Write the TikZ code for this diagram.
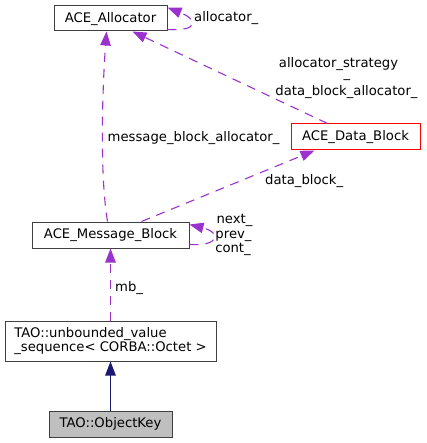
\documentclass[tikz,border=0pt]{standalone}
\usepackage{fontspec}
\setmainfont{DejaVu Sans}
\usetikzlibrary{arrows.meta}
\definecolor{edgepurple}{HTML}{9A32CD}
\definecolor{navyedge}{HTML}{191970}
\definecolor{boxgray}{HTML}{404040}
\definecolor{keyfill}{HTML}{BFBFBF}
\begin{document}
\begin{tikzpicture}[x=1pt,y=-1pt,
  font=\fontsize{13.2pt}{14pt}\selectfont,
  boxbase/.style={draw=boxgray, line width=1pt, fill=white, inner sep=0pt},
  box/.style={boxbase, text height=10pt, text depth=2.4pt},
  lbl/.style={inner sep=0pt},
  tip/.style={-{Triangle[length=14pt,width=10.5pt]}},
  coll/.style={draw=edgepurple, line width=1.1pt, dash pattern=on 9pt off 7pt, tip},
  inh/.style={draw=navyedge, line width=1.1pt, tip}]
\useasboundingbox (0,0) rectangle (426,443);

% nodes
\node[box, minimum width=113pt, minimum height=25pt] (alloc) at (110.5,18.5) {ACE\_Allocator};
\node[box, draw=red, minimum width=129pt, minimum height=26pt] (db) at (355.5,137) {ACE\_Data\_Block};
\node[box, minimum width=157pt, minimum height=26pt] (msg) at (110.5,235) {ACE\_Message\_Block};
\node[boxbase, align=left, minimum width=211pt, minimum height=40pt] (seq) at (110.5,341)
  {TAO::unbounded\_value\\\_sequence< CORBA::Octet >};
\node[box, fill=keyfill, minimum width=123pt, minimum height=26pt] (key) at (110.5,424) {TAO::ObjectKey};

% connectors
\draw[coll] ([yshift=2pt]alloc.south east) .. controls +(32,2) and +(30,12) .. ([yshift=-2pt]alloc.north east);
\draw[coll] ([xshift=37pt]db.north west) -- ([xshift=79pt]alloc.south west);
\draw[coll] ([xshift=76pt]msg.north west) .. controls (99,170) and (103,80) .. ([xshift=53pt]alloc.south west);
\draw[coll] ([xshift=110pt]msg.north west) -- ([xshift=24pt]db.south west);
\draw[coll] ([yshift=4pt]msg.south east) .. controls +(30,2) and +(32,8) .. ([yshift=-3pt]msg.north east);
\draw[coll] (seq.north) -- (msg.south);
\draw[inh] (key.north) -- (seq.south);

% labels
\node[lbl, anchor=base west] (lalloc) at (194,21.5) {allocator\_};
\node[lbl, anchor=base] (lstrat) at (338.5,68) {allocator\_strategy};
\node[lbl, anchor=base] (lus) at (347,77.5) {\_};
\node[lbl, anchor=base] (ldba) at (346.5,96) {data\_block\_allocator\_};
\node[lbl, anchor=base west] (lmba) at (107.5,141.5) {message\_block\_allocator\_};
\node[lbl, anchor=base west] (ldb) at (265,184.3) {data\_block\_};
\node[lbl, anchor=base] (lnext) at (234.5,223.5) {next\_};
\node[lbl, anchor=base] (lprev) at (233.5,238.3) {prev\_};
\node[lbl, anchor=base] (lcont) at (233,252.7) {cont\_};
\node[lbl, anchor=base west] (lmb) at (115,291.5) {mb\_};
\end{tikzpicture}
\end{document}
